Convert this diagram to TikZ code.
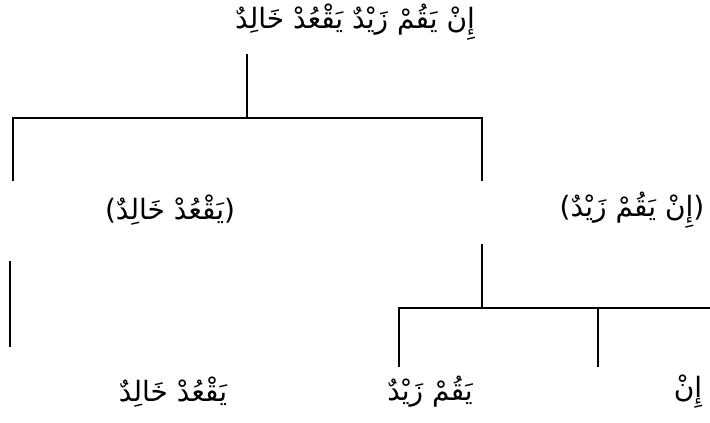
\documentclass[tikz,border=0pt]{standalone}
\usepackage{fontspec}
\newfontfamily\arabicfont[Script=Arabic]{DejaVu Sans}
\TeXXeTstate=1
\begin{document}
\begin{tikzpicture}[x=1pt,y=-1pt,
  lbl/.style={inner sep=0pt,font=\arabicfont\fontsize{28}{32}\selectfont},
  thick line/.style={line width=2pt},
  thin line/.style={line width=1.4pt}]
\useasboundingbox (0,0) rectangle (710,423);
\node[lbl] (top) at (355,22) {\beginR إِنْ يَقُمْ زَيْدٌ يَقْعُدْ خَالِدٌ\endR};
\node[lbl] (left) at (170,210) {\beginR (يَقْعُدْ خَالِدٌ)\endR};
\node[lbl] (right) at (632,210) {\beginR (إِنْ يَقُمْ زَيْدٌ)\endR};
\node[lbl] (bl) at (173,392) {\beginR يَقْعُدْ خَالِدٌ\endR};
\node[lbl] (bm) at (430,392) {\beginR يَقُمْ زَيْدٌ\endR};
\node[lbl] (br) at (688,392) {\beginR إِنْ\endR};
\coordinate (t0) at (247,54);
\coordinate (t1) at (247,118);
\coordinate (la) at (13,118);
\coordinate (lb) at (13,181);
\coordinate (ra) at (482,118);
\coordinate (rb) at (482,181);
\coordinate (l2a) at (10,261);
\coordinate (l2b) at (10,347);
\coordinate (r2a) at (482,244);
\coordinate (r2b) at (482,308);
\coordinate (ma) at (399,308);
\coordinate (mb) at (399,367);
\coordinate (na) at (598,308);
\coordinate (nb) at (598,367);
\coordinate (ea) at (710,308);
\draw[thick line] (t0) -- (t1);
\draw[thick line] (lb) -- (la) -- (ra) -- (rb);
\draw[thin line] (l2a) -- (l2b);
\draw[thick line] (r2a) -- (r2b);
\draw[thin line] (mb) -- (ma) -- (ea);
\draw[thin line] (na) -- (nb);
\end{tikzpicture}
\end{document}
